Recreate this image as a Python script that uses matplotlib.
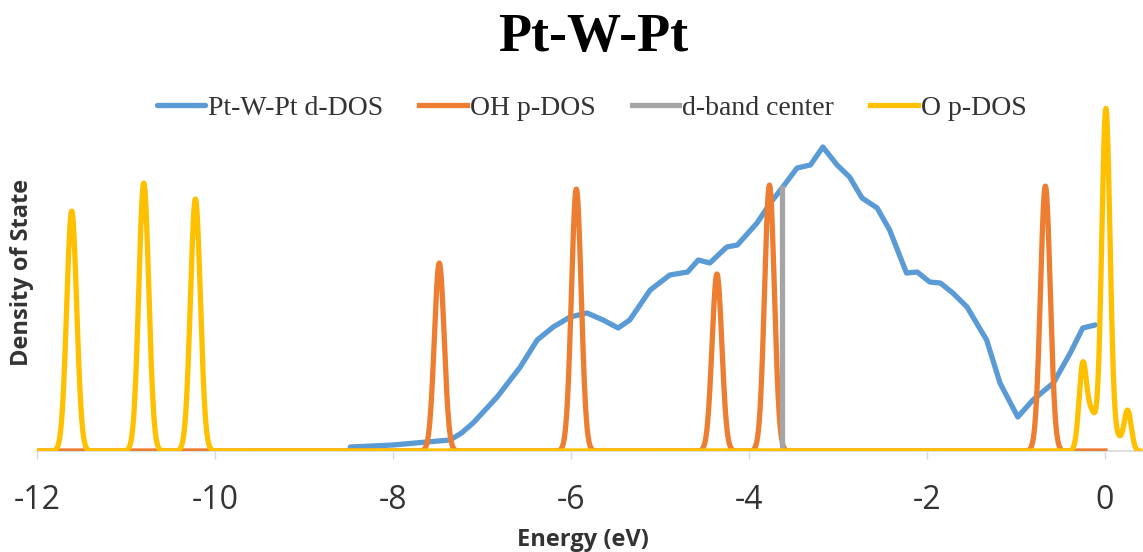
import numpy as np
import matplotlib
matplotlib.use('Agg')
import matplotlib.pyplot as plt

plt.rcParams['axes.unicode_minus'] = False

# Pt-W-Pt d-DOS (energy in eV, DOS in arbitrary units)
d_energy = [-8.48, -8.0, -7.62, -7.36, -7.23, -7.10, -6.83, -6.57, -6.38, -6.20,
            -6.01, -5.82, -5.64, -5.47, -5.34, -5.11, -4.89, -4.69, -4.57, -4.44,
            -4.25, -4.13, -3.91, -3.76, -3.62, -3.46, -3.31, -3.17, -3.01, -2.87,
            -2.73, -2.56, -2.42, -2.23, -2.11, -1.97, -1.85, -1.71, -1.55, -1.33,
            -1.18, -0.98, -0.81, -0.58, -0.39, -0.25, -0.11]
d_dos = [4, 6, 9, 11, 18, 28, 54, 84, 111, 124,
         134, 138, 131, 123, 131, 161, 176, 179, 191, 188,
         204, 206, 228, 248, 264, 283, 286, 304, 286, 274,
         253, 243, 221, 178, 179, 169, 168, 158, 144, 111,
         68, 34, 51, 68, 98, 123, 126]

# OH p-DOS peaks: centre, height, width
oh_center = [-7.48, -5.94, -4.36, -3.77, -0.67]
oh_height = [188, 262, 177, 266, 265]
oh_sigma = [0.055, 0.055, 0.055, 0.055, 0.055]

# O p-DOS peaks: centre, height, width
o_center = [-11.61, -10.80, -10.22, -0.25, -0.15, 0.01, 0.14, 0.255]
o_height = [240, 268, 252, 84, 36, 342, 12, 40]
o_sigma = [0.056, 0.056, 0.056, 0.042, 0.05, 0.047, 0.05, 0.04]

# d-band center
dband_x = [-3.63, -3.63]
dband_y = [0, 263]

labels = ['Pt-W-Pt d-DOS', 'OH p-DOS', 'd-band center', 'O p-DOS']
colors = ['#5B9BD5', '#ED7D31', '#A5A5A5', '#FFC000']


def smear(grid, centers, heights, sigmas):
    total = np.zeros_like(grid)
    for c, h, s in zip(centers, heights, sigmas):
        total += h * np.exp(-0.5 * ((grid - c) / s) ** 2)
    return total


e_oh = np.linspace(-12, 0.0, 3000)
e_o = np.linspace(-12, 0.39, 3000)
oh_dos = smear(e_oh, oh_center, oh_height, oh_sigma)
o_dos = smear(e_o, o_center, o_height, o_sigma)

fig = plt.figure(figsize=(11.43, 5.52), dpi=100)
ax = fig.add_axes([37 / 1143, 101 / 552, 1106 / 1143, 351 / 552])

lw = 3.8
ax.plot(d_energy, d_dos, color=colors[0], lw=lw, label=labels[0],
        solid_capstyle='round', solid_joinstyle='round')
ax.plot(e_oh, oh_dos, color=colors[1], lw=lw, label=labels[1])
ax.plot(dband_x, dband_y, color=colors[2], lw=lw, label=labels[2])
ax.plot(e_o, o_dos, color=colors[3], lw=lw, label=labels[3])

ax.set_xlim(-12, 0.427)
ax.set_ylim(0, 351)
ax.set_xticks(np.arange(-12, 1, 2))
ax.set_yticks([])
for s in ['top', 'right', 'left']:
    ax.spines[s].set_visible(False)
ax.spines['bottom'].set_color('#D9D9D9')
ax.spines['bottom'].set_linewidth(1.2)
ax.spines['bottom'].set_zorder(0)
ax.tick_params(axis='x', direction='out', length=6, width=1, color='#D9D9D9',
               pad=18, labelsize=23, labelcolor='#333333')
for t in ax.get_xticklabels():
    t.set_family(['Open Sans', 'DejaVu Sans'])

fig.text(582.5 / 1143, 1 - 540 / 552, 'Energy (eV)', ha='center', va='center',
         fontsize=17, fontweight='bold', color='#333333', family=['Open Sans', 'DejaVu Sans'])
fig.text(22 / 1143, 1 - 272 / 552, 'Density of State', ha='center', va='center',
         rotation=90, fontsize=17, fontweight='bold', color='#333333',
         family=['Open Sans', 'DejaVu Sans'])

fig.text(593 / 1143, 1 - 38 / 552, 'Pt-W-Pt', ha='center', va='center',
         fontsize=39, fontweight='bold', family=['Liberation Serif', 'DejaVu Serif'])

leg = fig.legend(loc='center', bbox_to_anchor=(592 / 1143, 1 - 108 / 552), ncol=4,
                 frameon=False, handlelength=1.7, handletextpad=0.12, columnspacing=1.3,
                 prop={'family': ['Liberation Serif', 'DejaVu Serif'], 'size': 20})
for t in leg.get_texts():
    t.set_color('#333333')

fig.savefig('out.png', dpi=100)
